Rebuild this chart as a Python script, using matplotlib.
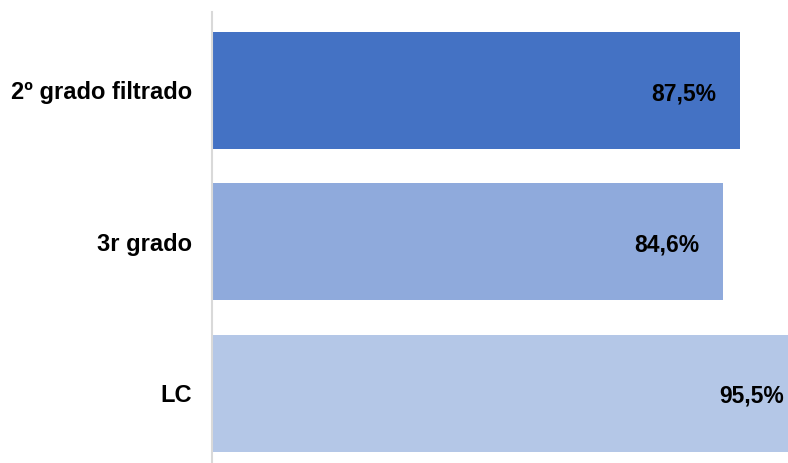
import matplotlib.pyplot as plt

# Data
categories = ["2º grado filtrado", "3r grado", "LC"]
values = [87.5, 84.6, 95.5]
labels = ["87,5%", "84,6%", "95,5%"]
colors = ["#4472C4", "#8FAADC", "#B4C7E7"]

plt.rcParams["font.family"] = ["Liberation Sans", "DejaVu Sans"]

fig = plt.figure(figsize=(7.88, 4.63), dpi=100)
ax = fig.add_axes([212 / 788, 0.0, 1 - 212 / 788, 1 - 12 / 463])

pos = list(range(len(categories)))
ax.barh(pos, values, height=0.772, color=colors)

xmax = 95.4
ax.set_xlim(0, xmax)
ax.set_ylim(2.459, -0.518)

for p, v, lab in zip(pos, values, labels):
    # label sits inside the bar end; pushed to the edge when bar is clipped
    x = v - 3.95 if v < xmax - 1 else xmax - 0.7
    ax.text(x, p + 0.02, lab, ha="right", va="center", fontsize=16.5,
            fontweight="bold", color="black")

ax.set_yticks(pos)
ax.set_yticklabels(categories, fontsize=17, fontweight="bold")
ax.tick_params(axis="y", length=0, pad=14.4)
ax.set_xticks([])

for s in ["top", "right", "bottom"]:
    ax.spines[s].set_visible(False)
ax.spines["left"].set_color("#D9D9D9")
ax.spines["left"].set_linewidth(1.5)

fig.savefig("out.png", dpi=100)
